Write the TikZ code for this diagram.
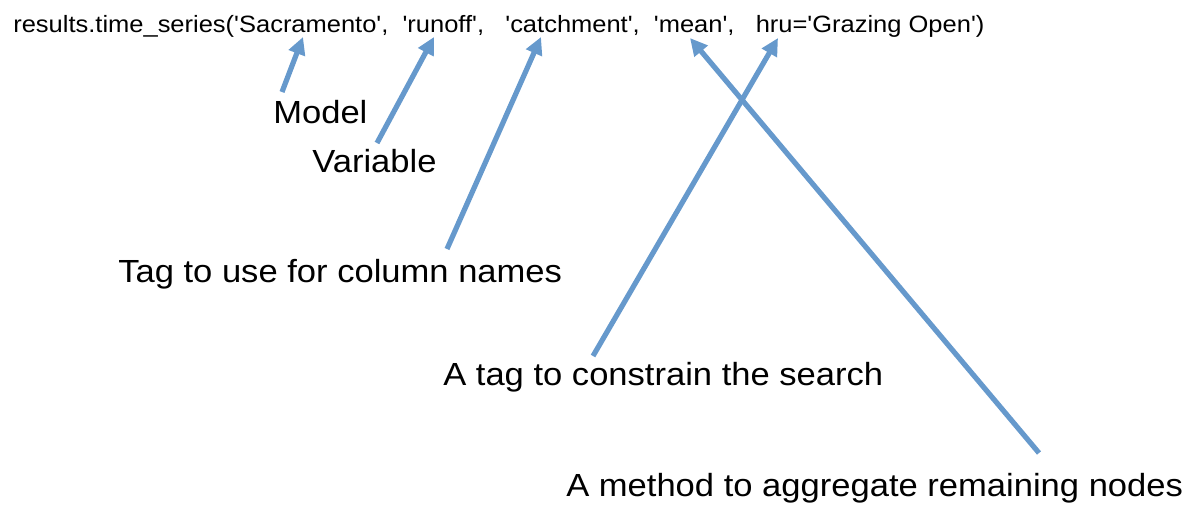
\documentclass[tikz,border=0pt]{standalone}
\usepackage{fontspec}
\setmainfont{Liberation Sans}
\usetikzlibrary{arrows.meta}
\definecolor{arrowblue}{RGB}{102,153,204}
\newcommand\squote{\textquotesingle}
\begin{document}
\begin{tikzpicture}[x=0.75pt,y=-0.75pt,
  label/.style={anchor=base west,inner sep=0pt,xscale=1.08,font=\fontsize{24}{28}\selectfont},
  code/.style={anchor=base west,inner sep=0pt,xscale=1.08,font=\fontsize{17.7}{20}\selectfont},
  pointer/.style={arrowblue,line width=3.9pt,-{Triangle[length=13pt,width=12.5pt]}}]
\useasboundingbox (0,0) rectangle (1195,508);

\node[code] (call) at (13,32.7) {results.time\_series(\squote Sacramento\squote,~~\squote runoff\squote,~~~\squote catchment\squote,~~\squote mean\squote,~~~hru=\squote Grazing Open\squote)};

\node[label] (model) at (273,123) {Model};
\node[label] (variable) at (312,172) {Variable};
\node[label] (tag) at (118,282) {Tag to use for column names};
\node[label] (constrain) at (443,385) {A tag to constrain the search};
\node[label] (method) at (566,496) {A method to aggregate remaining nodes};

% tips under the code line
\coordinate (sacramento) at (303,37);
\coordinate (runoff) at (434,37);
\coordinate (catchment) at (541,37);
\coordinate (mean) at (690,38);
\coordinate (hru) at (778,38);

% tails above the labels
\coordinate (modeltail) at (282,92);
\coordinate (variabletail) at (377,143);
\coordinate (tagtail) at (447,249);
\coordinate (constraintail) at (593,356);
\coordinate (methodtail) at (1039,453);

\draw[pointer] (modeltail) -- (sacramento);
\draw[pointer] (variabletail) -- (runoff);
\draw[pointer] (tagtail) -- (catchment);
\draw[pointer] (constraintail) -- (hru);
\draw[pointer] (methodtail) -- (mean);
\end{tikzpicture}
\end{document}
